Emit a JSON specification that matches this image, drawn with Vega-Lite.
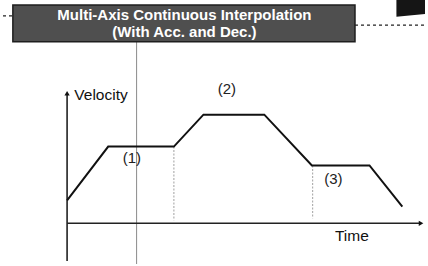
{
  "$schema": "https://vega.github.io/schema/vega-lite/v6.json",
  "width": 428,
  "height": 266,
  "autosize": {"type": "fit", "contains": "padding"},
  "padding": 0,
  "background": "white",
  "config": {"view": {"stroke": null}},
  "datasets": {
    "profile": [
      {"x": 65, "y": 64}, {"x": 106.7, "y": 118.3}, {"x": 173.3, "y": 118.3},
      {"x": 203.3, "y": 150.5}, {"x": 265, "y": 150.5}, {"x": 313.3, "y": 99.3},
      {"x": 371.7, "y": 99.3}, {"x": 405, "y": 57.7}
    ],
    "guides": [
      {"seg": "a", "x": 173.3, "y": 118.3}, {"seg": "a", "x": 173.3, "y": 44},
      {"seg": "b", "x": 314, "y": 99.3}, {"seg": "b", "x": 314, "y": 46}
    ],
    "axes": [
      {"seg": "v", "x": 65, "y": 172}, {"seg": "v", "x": 65, "y": 3},
      {"seg": "h", "x": 65, "y": 41}, {"seg": "h", "x": 423, "y": 41}
    ],
    "arrows": [
      {"x": 65, "y": 172, "dir": "up"}, {"x": 424, "y": 41, "dir": "right"}
    ],
    "thin": [{"x": 135.5, "y": 224}, {"x": 135.5, "y": 0}],
    "dashes": [
      {"seg": "l", "x": 0, "y": 250}, {"seg": "l", "x": 10, "y": 250},
      {"seg": "r", "x": 357, "y": 240.7}, {"seg": "r", "x": 428, "y": 240.7}
    ],
    "box": [{"x": 10, "x2": 357, "y": 224, "y2": 261}],
    "corner": [{"x": 399, "y": 249, "y2": 266}, {"x": 428, "y": 252, "y2": 266}],
    "title": [
      {"x": 184, "y": 251, "label": "Multi-Axis Continuous Interpolation"},
      {"x": 184, "y": 233.5, "label": "(With Acc. and Dec.)"}
    ],
    "words": [
      {"x": 72.3, "y": 165, "label": "Velocity"},
      {"x": 336.7, "y": 22.7, "label": "Time"}
    ],
    "marks": [
      {"x": 130.7, "y": 107.3, "label": "(1)"},
      {"x": 227, "y": 176.5, "label": "(2)"},
      {"x": 335, "y": 85.7, "label": "(3)"}
    ]
  },
  "encoding": {
    "x": {"field": "x", "type": "quantitative", "axis": null,
          "scale": {"domain": [0, 428], "nice": false, "zero": false}},
    "y": {"field": "y", "type": "quantitative", "axis": null,
          "scale": {"domain": [0, 266], "nice": false, "zero": false}}
  },
  "layer": [
    {
      "data": {"name": "thin"},
      "mark": {"type": "line", "color": "#8a8a8a", "strokeWidth": 1},
      "encoding": {}
    },
    {
      "data": {"name": "dashes"},
      "mark": {"type": "line", "color": "#222222", "strokeWidth": 1.3, "strokeDash": [3, 3]},
      "encoding": {"detail": {"field": "seg"}}
    },
    {
      "data": {"name": "corner"},
      "mark": {"type": "area", "color": "#151515", "opacity": 1},
      "encoding": {"y2": {"field": "y2"}}
    },
    {
      "data": {"name": "box"},
      "mark": {"type": "rect", "fill": "#4f4f4f", "stroke": "#1e1e1e", "strokeWidth": 1.5},
      "encoding": {"x2": {"field": "x2"}, "y2": {"field": "y2"}}
    },
    {
      "data": {"name": "title"},
      "mark": {"type": "text", "color": "white", "font": "Liberation Sans", "fontWeight": "bold",
               "fontSize": 15, "align": "center", "baseline": "middle"},
      "encoding": {"text": {"field": "label"}}
    },
    {
      "data": {"name": "guides"},
      "mark": {"type": "line", "color": "#b0b0b0", "strokeWidth": 1.2, "strokeDash": [2, 1.5]},
      "encoding": {"detail": {"field": "seg"}}
    },
    {
      "data": {"name": "axes"},
      "mark": {"type": "line", "color": "#222222", "strokeWidth": 1.6},
      "encoding": {"detail": {"field": "seg"}}
    },
    {
      "data": {"name": "arrows"},
      "mark": {"type": "point", "filled": true, "color": "#111111", "size": 28, "opacity": 1},
      "encoding": {
        "shape": {"field": "dir", "type": "nominal", "legend": null,
                  "scale": {"domain": ["up", "right"], "range": ["triangle-up", "triangle-right"]}}
      }
    },
    {
      "data": {"name": "profile"},
      "mark": {"type": "line", "color": "#111111", "strokeWidth": 2},
      "encoding": {}
    },
    {
      "data": {"name": "words"},
      "mark": {"type": "text", "color": "#111111", "font": "Liberation Sans", "fontSize": 15.5,
               "align": "left", "baseline": "alphabetic"},
      "encoding": {"text": {"field": "label"}}
    },
    {
      "data": {"name": "marks"},
      "mark": {"type": "text", "color": "#222222", "font": "Liberation Sans", "fontSize": 15,
               "align": "center", "baseline": "middle"},
      "encoding": {"text": {"field": "label"}}
    }
  ]
}
